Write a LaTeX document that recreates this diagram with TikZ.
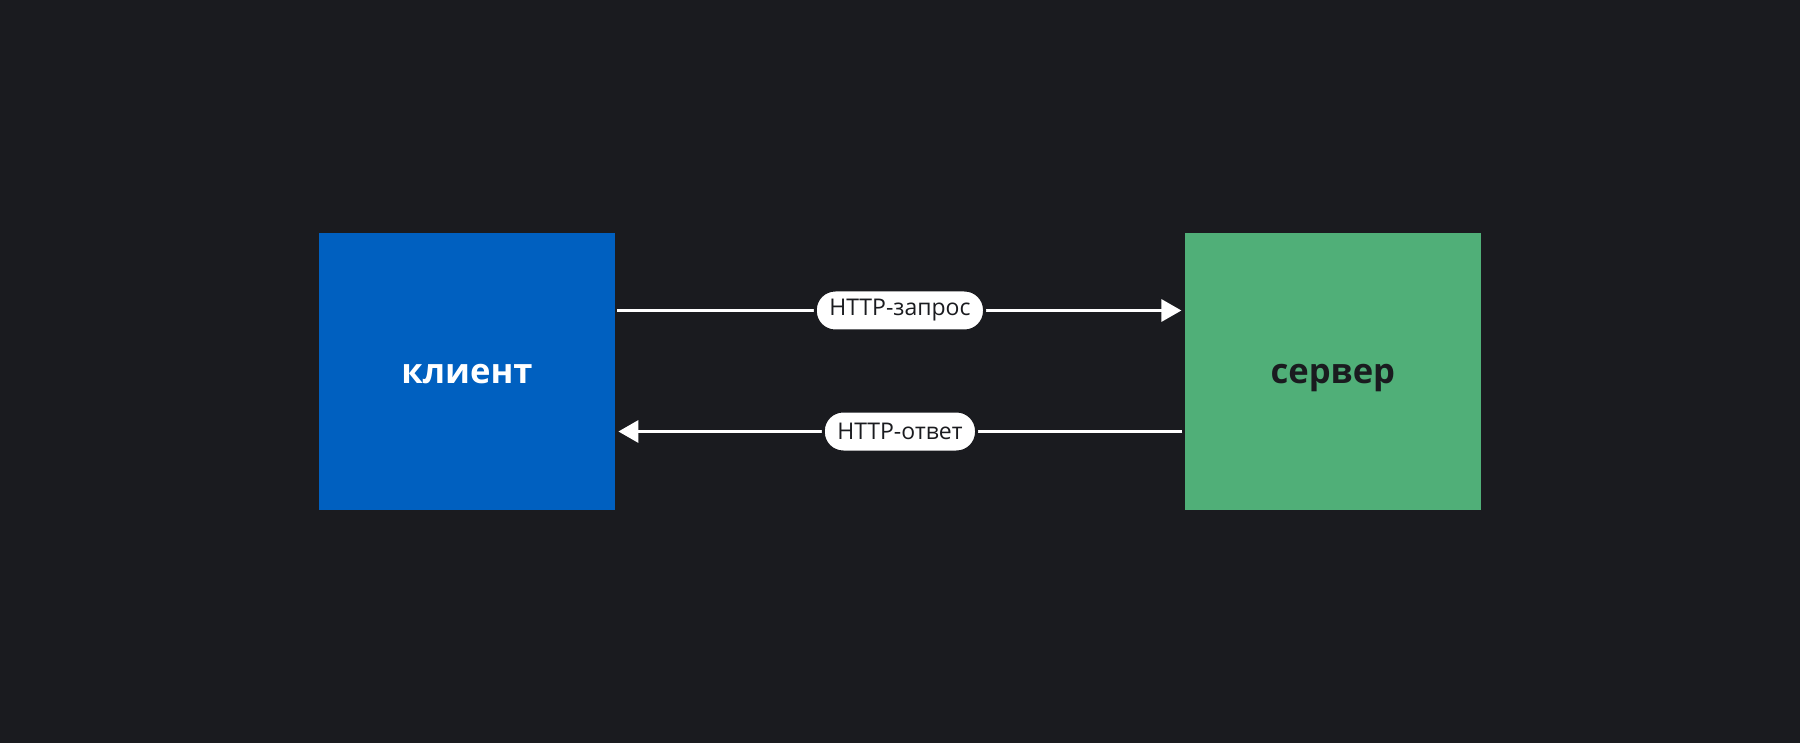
\documentclass[tikz,border=0pt]{standalone}
\usepackage{fontspec}
\setmainfont{Open Sans}
\usepackage{xcolor}
\usetikzlibrary{arrows.meta,positioning}

\definecolor{bgdark}{HTML}{1A1B1F}
\definecolor{clientblue}{HTML}{0060C0}
\definecolor{servergreen}{HTML}{50AF78}

\begin{document}
\begin{tikzpicture}[
  x=0.5pt,y=-0.5pt,
  font=\fontsize{11.5}{13}\selectfont,
  node distance=284.5pt,
  block/.style={minimum width=148pt,minimum height=138.5pt,inner sep=0pt,
    text height=11.6pt,text depth=0pt,
    font=\fontsize{17.3}{21}\selectfont\bfseries},
  msg/.style={-{Triangle[length=10pt,width=11pt]},line width=1.6pt,white,
    shorten <=1pt,shorten >=1.5pt},
  pill/.style={fill=white,draw=bgdark,line width=1.5pt,rounded corners=10pt,
    text=bgdark,inner xsep=7pt,minimum height=20.5pt}
]
\fill[bgdark] (0,0) rectangle (1800,743);
\useasboundingbox (0,0) rectangle (1800,743);

\node[block,fill=clientblue,text=white] (client) at (467,371.5) {клиент};
\node[block,fill=servergreen,text=bgdark,right=of client] (server) {сервер};

\draw[msg] ([yshift=30.5pt]client.east) -- node[pill]{HTTP-запрос} ([yshift=30.5pt]server.west);
\draw[msg] ([yshift=-30pt]server.west) -- node[pill]{HTTP-ответ} ([yshift=-30pt]client.east);
\end{tikzpicture}
\end{document}
